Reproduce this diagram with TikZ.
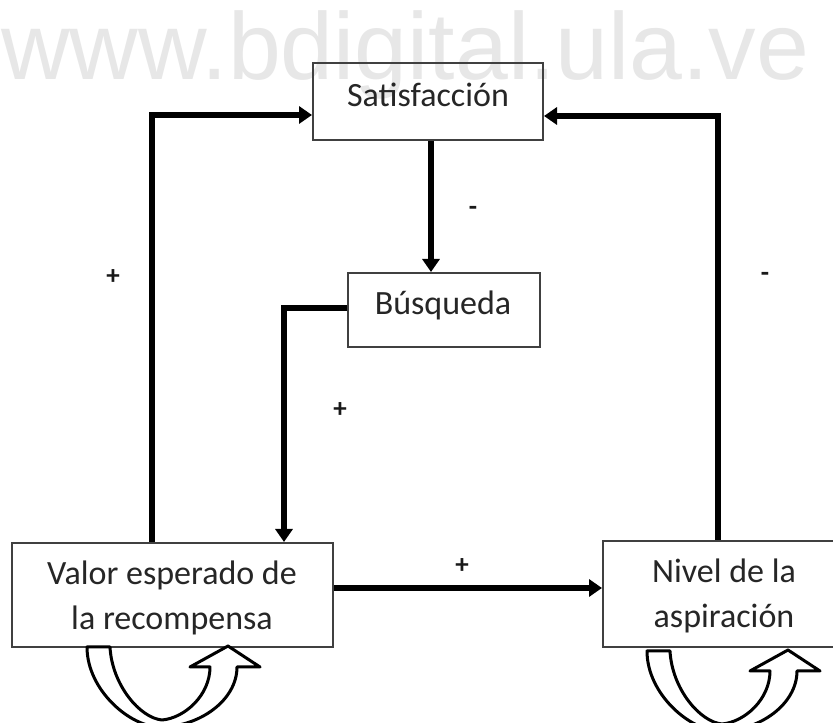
\documentclass[tikz,border=0pt]{standalone}
\usepackage{fontspec}
\setmainfont{Carlito}
\newfontfamily\wmfont{Liberation Sans}
\usetikzlibrary{arrows.meta,calc}
\definecolor{wm}{RGB}{231,231,231}
\begin{document}
\begin{tikzpicture}[x=1pt,y=1pt,
  box/.style={draw=black!75, line width=2pt, rectangle, inner sep=0pt},
  txt/.style={font=\fontsize{34}{45}\selectfont, text=black!85, align=center, inner sep=0pt},
  conn/.style={line width=6pt, -{Triangle[length=13pt,width=17pt]}},
  sign/.style={font=\bfseries\fontsize{27}{30}\selectfont, text=black!90, inner sep=0pt},
  uturn/.pic={
    \draw[line width=3pt, fill=white, line join=round]
      (0,0) -- (23,0)
      .. controls (25,-38) and (53,-71) .. (75,-73)
      .. controls (98,-71) and (123,-48) .. (123,-20)
      -- (103,-20) -- (141,1) -- (173,-20) -- (150,-20)
      .. controls (150,-53) and (113,-80) .. (73,-80)
      .. controls (43,-80) and (0,-43) .. (0,0) -- cycle;
  }]
\useasboundingbox (0,0) rectangle (833,723);
\fill[white] (0,0) rectangle (833,723);
% watermark
\node[anchor=base west, inner sep=0pt, text=wm, font=\wmfont\fontsize{95}{95}\selectfont] (wmark) at (1,643) {www.bdigital.ula.ve};
% boxes
\node[box, minimum width=230pt, minimum height=77pt] (s) at (428,621.5) {};
\node[txt] (st) at (428,628) {Satisfacción};
\node[box, minimum width=192pt, minimum height=74pt] (b) at (444,413) {};
\node[txt] (bt) at (443,418) {Búsqueda};
\node[box, minimum width=321pt, minimum height=104pt] (v) at (172.5,128) {};
\node[txt] (vt) at (172,125.5) {Valor esperado de\\la recompensa};
\node[box, minimum width=236pt, minimum height=106pt] (n) at (721,129) {};
\node[txt] (nt) at (724,127.5) {Nivel de la\\aspiración};
% helper coordinates
\coordinate (lcol) at (152,608);
\coordinate (rcol) at (718,607);
\coordinate (mcol) at (431,0);
\coordinate (bcol) at (284,415);
\coordinate (hrow) at (0,135);
% connectors
\draw[conn] (v.north -| lcol) |- (s.west |- lcol);
\draw[conn] (n.north -| rcol) |- (s.east |- rcol);
\draw[conn] (s.south -| mcol) -- (b.north -| mcol);
\draw[conn] (b.west |- bcol) -| (v.north -| bcol);
\draw[conn] (v.east |- hrow) -- (n.west |- hrow);
% signs
\node[sign] (l1) at (113,446) {+};
\node[sign] (l2) at (765,446) {-};
\node[sign] (l3) at (473,512) {-};
\node[sign] (l4) at (340,313) {+};
\node[sign] (l5) at (462,157) {+};
% u-turn arrows
\pic at (87,76) {uturn};
\pic at (647,72) {uturn};
\end{tikzpicture}
\end{document}
